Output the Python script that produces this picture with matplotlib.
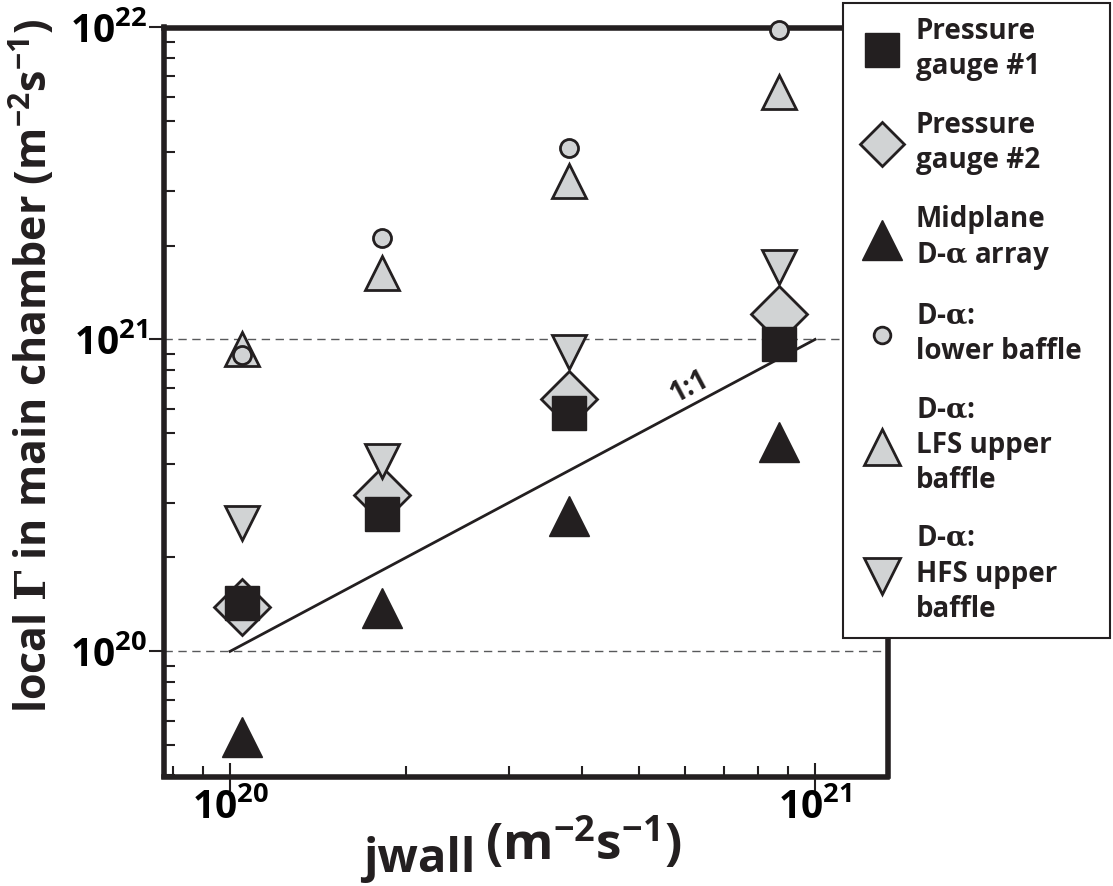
import matplotlib
matplotlib.use('Agg')
import matplotlib.pyplot as plt
from matplotlib.lines import Line2D
from matplotlib.ticker import NullFormatter

plt.rcParams['font.family'] = ['Open Sans', 'DejaVu Sans']
plt.rcParams['font.weight'] = 'bold'
plt.rcParams['mathtext.fontset'] = 'custom'
plt.rcParams['mathtext.rm'] = 'Open Sans:bold'
plt.rcParams['mathtext.it'] = 'Open Sans:bold'
plt.rcParams['mathtext.bf'] = 'Open Sans:bold'
plt.rcParams['mathtext.sf'] = 'DejaVu Serif'

INK = '#231f20'
GREY = '#d1d3d4'

# wall flux of the four discharges (m^-2 s^-1)
jwall = [1.05e20, 1.82e20, 3.80e20, 8.67e20]

# local flux in the main chamber from each diagnostic
gauge1 = [1.43e20, 2.75e20, 5.83e20, 9.64e20]
gauge2 = [1.39e20, 3.16e20, 6.43e20, 1.21e21]
midplane = [5.30e19, 1.38e20, 2.71e20, 4.68e20]
lower_baffle = [8.89e20, 2.11e21, 4.12e21, 9.85e21]
lfs_upper = [9.29e20, 1.63e21, 3.21e21, 6.19e21]
hfs_upper = [2.57e20, 4.09e20, 9.09e20, 1.71e21]

one_to_one = [1e20, 1e21]

alpha = r'$\mathsf{\alpha}$'
labels = ['Pressure\ngauge #1',
          'Pressure\ngauge #2',
          'Midplane\nD-' + alpha + ' array',
          'D-' + alpha + ':\nlower baffle',
          'D-' + alpha + ':\nLFS upper\nbaffle',
          'D-' + alpha + ':\nHFS upper\nbaffle']


def main():
    W, H = 1113, 886
    fig = plt.figure(figsize=(W / 100, H / 100), dpi=100)
    ax = fig.add_axes([164 / W, 1 - 776.5 / H, 723.5 / W, 749 / H])
    ax.set_xscale('log')
    ax.set_yscale('log')
    ax.set_xlim(7.71e19, 1.33e21)
    ax.set_ylim(3.97e19, 1e22)

    ax.axhline(1e21, color='#58595b', lw=1, dashes=(6, 4), zorder=1)
    ax.axhline(1e20, color='#58595b', lw=1, dashes=(6, 4), zorder=1)

    ax.plot(one_to_one, one_to_one, color=INK, lw=2, zorder=2)
    ax.text(6.1e20, 7.05e20, '1:1', rotation=28, ha='center', va='center',
            fontsize=20, fontweight='bold', color=INK)

    kw = dict(ls='none', clip_on=False, zorder=3)
    ax.plot(jwall, gauge2, marker='D', ms=29, mfc=GREY, mec=INK, mew=2, **kw)
    ax.plot(jwall, gauge1, marker='s', ms=25, mfc=INK, mec=INK, mew=1, **kw)
    ax.plot(jwall, midplane, marker='^', ms=29, mfc=INK, mec=INK, mew=1, **kw)
    ax.plot(jwall, lfs_upper, marker='^', ms=24, mfc=GREY, mec=INK, mew=2, **kw)
    ax.plot(jwall, lower_baffle, marker='o', ms=13, mfc=GREY, mec=INK, mew=2, **kw)
    ax.plot(jwall, hfs_upper, marker='v', ms=24, mfc=GREY, mec=INK, mew=2, **kw)

    for s in ax.spines.values():
        s.set_linewidth(4)
        s.set_color(INK)

    ax.set_xticks([1e20, 1e21], [r'$10^{20}$', r'$10^{21}$'])
    ax.set_yticks([1e20, 1e21, 1e22], [r'$10^{20}$', r'$10^{21}$', r'$10^{22}$'])
    ax.xaxis.set_minor_formatter(NullFormatter())
    ax.yaxis.set_minor_formatter(NullFormatter())
    ax.tick_params(which='major', axis='x', direction='inout', length=20,
                   width=1.5, color=INK, pad=-2, labelsize=28)
    ax.tick_params(which='major', axis='y', direction='out', length=11,
                   width=1.5, color=INK, pad=1, labelsize=28)
    ax.tick_params(which='minor', direction='in', length=8, width=1.5, color=INK)

    fig.text(0.029, 0.587, r'local $\mathsf{\Gamma}$ in main chamber (m$^{-2}$s$^{-1}$)',
             rotation=90, ha='center', va='center', fontsize=31,
             fontweight='bold', color=INK)
    fig.text(363 / W, 1 - 872 / H, 'jwall', ha='left', va='baseline',
             fontsize=34, fontweight='bold', color=INK)
    fig.text(485 / W, 1 - 860 / H, r'(m$^{-2}$s$^{-1}$)', ha='left',
             va='baseline', fontsize=37, fontweight='bold', color=INK)

    handles = [
        Line2D([], [], ls='none', marker='s', ms=25, mfc=INK, mec=INK),
        Line2D([], [], ls='none', marker='D', ms=22, mfc=GREY, mec=INK, mew=2),
        Line2D([], [], ls='none', marker='^', ms=29, mfc=INK, mec=INK),
        Line2D([], [], ls='none', marker='o', ms=12, mfc=GREY, mec=INK, mew=2),
        Line2D([], [], ls='none', marker='^', ms=26, mfc=GREY, mec=INK, mew=2),
        Line2D([], [], ls='none', marker='v', ms=26, mfc=GREY, mec=INK, mew=2),
    ]
    leg = fig.legend(handles, labels, loc='upper left', mode='expand',
                     bbox_to_anchor=(843 / W, 1 - 645 / H, 267 / W, 642 / H),
                     frameon=True, fancybox=False, framealpha=1, edgecolor=INK,
                     prop={'size': 20, 'weight': 'bold'}, labelspacing=1.08,
                     handlelength=1.8, handletextpad=0.32, borderpad=0.5,
                     borderaxespad=0)
    leg.get_frame().set_linewidth(1.5)
    for t in leg.get_texts():
        t.set_linespacing(1.27)
        t.set_color(INK)

    fig.savefig('out.png', dpi=100)


if __name__ == '__main__':
    main()
